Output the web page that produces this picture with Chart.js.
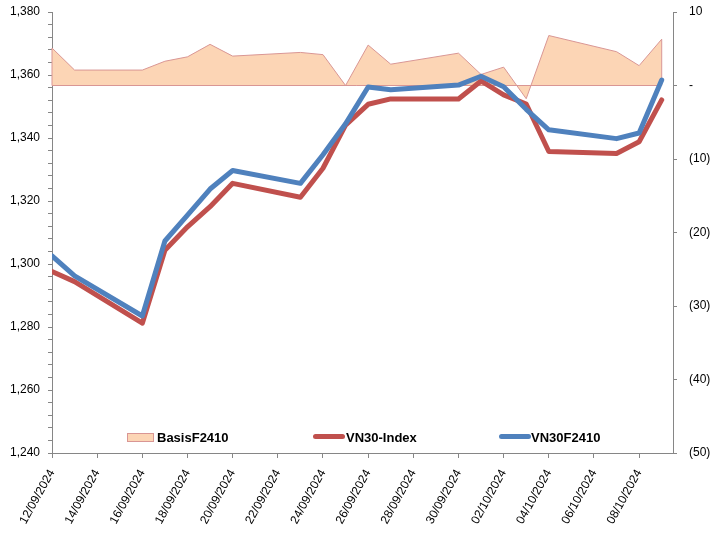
<!DOCTYPE html>
<html>
<head>
<meta charset="utf-8">
<script src="https://cdn.jsdelivr.net/npm/chart.js@4.4.1/dist/chart.umd.min.js"></script>
<style>
  body { margin: 0; background: #fff; }
  #wrap { position: relative; width: 718px; height: 533px; }
  .lg { position: absolute; font: bold 13px "Liberation Sans", Arial, sans-serif; line-height: 13px; color: #000; }
  .sw { position: absolute; }
</style>
</head>
<body>
<div id="wrap">
  <canvas id="chart" width="718" height="533"></canvas>
  <div class="sw" style="left:127px;top:433px;width:25px;height:7px;background:#FCD5B5;border:1px solid #D99694"></div>
  <div class="lg" style="left:157px;top:431px">BasisF2410</div>
  <div class="sw" style="left:313px;top:434px;width:32px;height:5px;border-radius:3px;background:#C0504D"></div>
  <div class="lg" style="left:346px;top:431px">VN30-Index</div>
  <div class="sw" style="left:499px;top:434px;width:32px;height:5px;border-radius:3px;background:#4F81BD"></div>
  <div class="lg" style="left:531px;top:431px">VN30F2410</div>
</div>
<script>
const dates = ['12/09/2024', '13/09/2024', '16/09/2024', '17/09/2024', '18/09/2024', '19/09/2024', '20/09/2024',
  '23/09/2024', '24/09/2024', '25/09/2024', '26/09/2024', '27/09/2024', '30/09/2024', '01/10/2024',
  '02/10/2024', '03/10/2024', '04/10/2024', '07/10/2024', '08/10/2024', '09/10/2024']
const vn30Index = [1297.6, 1294.4, 1281.2, 1304.4, 1311.8, 1318.2, 1325.6, 1321.2, 1330.4, 1344.1,
  1350.7, 1352.4, 1352.4, 1358.1, 1353.7, 1350.8, 1335.7, 1335.1, 1338.8, 1352.1]
const vn30F2410 = [1302.6, 1296.2, 1283.5, 1307.3, 1315.5, 1323.8, 1329.7, 1325.6, 1334.7, 1344.5,
  1356.2, 1355.3, 1356.8, 1359.6, 1356.3, 1349.1, 1342.6, 1339.8, 1341.6, 1358.4]
const basis = [5.1, 2.1, 2.1, 3.3, 3.9, 5.6, 4.0, 4.5, 4.2, 0.0,
  5.5, 2.9, 4.4, 1.5, 2.5, -1.8, 6.8, 4.6, 2.7, 6.3]

const DAY = 86400000
const toUTC = s => { const [d, m, y] = s.split('/').map(Number); return Date.UTC(y, m - 1, d) }
const start = toUTC(dates[0])
const days = dates.map(s => (toUTC(s) - start) / DAY)
const pts = vals => vals.map((v, i) => ({ x: days[i], y: v }))

const pad = n => String(n).padStart(2, '0')
const dayLabel = v => {
  const d = new Date(start + v * DAY)
  return `${pad(d.getUTCDate())}/${pad(d.getUTCMonth() + 1)}/${d.getUTCFullYear()}`
}

const axisGray = '#868686'
const tickFont = { family: '"Liberation Sans", Arial, sans-serif', size: 12 }

// fixed scale sizes so the plot area sits where the Excel one does
const fitTo = (w, h) => s => {
  if (w) s.width = w
  if (h) s.height = h
  s.paddingTop = 0
  s.paddingBottom = 0
  s.paddingLeft = 0
  s.paddingRight = 0
}

// closes the basis area along zero, like the Excel area border
const areaEdge = {
  id: 'areaEdge',
  afterDatasetDraw (chart, args) {
    if (args.index !== 0) return
    const p = args.meta.data
    const y0 = chart.scales.y1.getPixelForValue(0)
    const ctx = chart.ctx
    ctx.save()
    ctx.strokeStyle = '#D99694'
    ctx.lineWidth = 1
    ctx.beginPath()
    ctx.moveTo(p[0].x, p[0].y)
    ctx.lineTo(p[0].x, y0)
    ctx.lineTo(p[p.length - 1].x, y0)
    ctx.lineTo(p[p.length - 1].x, p[p.length - 1].y)
    ctx.stroke()
    ctx.restore()
  }
}

new Chart(document.querySelector('#chart').getContext('2d'), {
  type: 'line',
  data: {
    datasets: [
      {
        label: 'BasisF2410', data: pts(basis), yAxisID: 'y1', order: 3,
        fill: 'origin', backgroundColor: '#FCD5B5', borderColor: '#D99694', borderWidth: 1,
        pointRadius: 0, tension: 0
      },
      {
        label: 'VN30-Index', data: pts(vn30Index), yAxisID: 'y', order: 2,
        borderColor: '#C0504D', borderWidth: 5, borderJoinStyle: 'round', borderCapStyle: 'round',
        pointRadius: 0, tension: 0, fill: false
      },
      {
        label: 'VN30F2410', data: pts(vn30F2410), yAxisID: 'y', order: 1,
        borderColor: '#4F81BD', borderWidth: 5, borderJoinStyle: 'round', borderCapStyle: 'round',
        pointRadius: 0, tension: 0, fill: false
      }
    ]
  },
  options: {
    responsive: false,
    animation: false,
    layout: { padding: { top: 12, left: 0, right: 0, bottom: 0 } },
    plugins: { legend: { display: false }, tooltip: { enabled: false } },
    scales: {
      x: {
        type: 'linear', position: 'bottom', min: 0, max: 27.5,
        afterFit: fitTo(0, 80),
        border: { color: axisGray },
        grid: { drawOnChartArea: false, color: axisGray, tickLength: 5 },
        ticks: {
          stepSize: 2, includeBounds: false, autoSkip: false, minRotation: 61, maxRotation: 61,
          padding: 9, color: '#000', font: tickFont, callback: v => dayLabel(v)
        }
      },
      y: {
        position: 'left', min: 1240, max: 1380,
        afterFit: fitTo(52, 0),
        border: { color: axisGray },
        grid: { drawOnChartArea: false, color: axisGray, tickLength: 4 },
        ticks: {
          stepSize: 4, autoSkip: false, padding: 8, color: '#000', font: tickFont,
          callback: v => (v % 20 === 0 ? v.toLocaleString('en-US') : '')
        }
      },
      y1: {
        position: 'right', min: -50, max: 10,
        afterFit: fitTo(45, 0),
        border: { color: axisGray },
        grid: { drawOnChartArea: false, color: axisGray, tickLength: 4 },
        ticks: {
          stepSize: 10, padding: 12, color: '#000', font: tickFont,
          callback: v => (v === 0 ? '-' : v < 0 ? `(${-v})` : String(v))
        }
      }
    }
  },
  plugins: [areaEdge]
})
</script>
</body>
</html>
